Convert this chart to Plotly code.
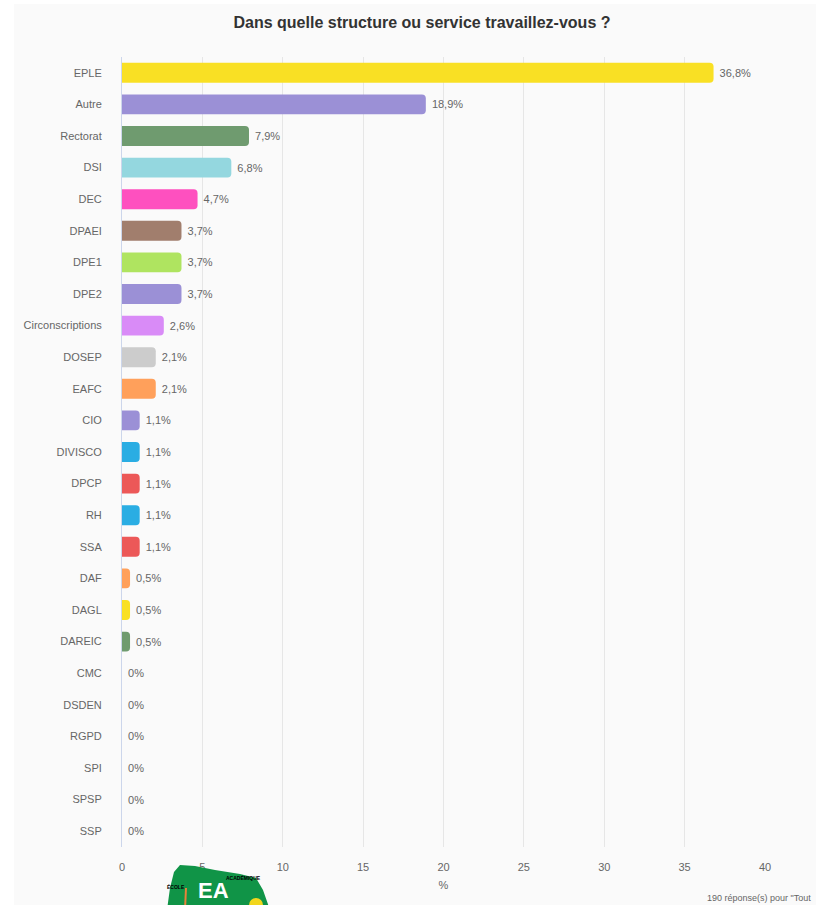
import plotly.graph_objects as go

categories = ["EPLE", "Autre", "Rectorat", "DSI", "DEC", "DPAEI", "DPE1", "DPE2",
              "Circonscriptions", "DOSEP", "EAFC", "CIO", "DIVISCO", "DPCP", "RH",
              "SSA", "DAF", "DAGL", "DAREIC", "CMC", "DSDEN", "RGPD", "SPI", "SPSP", "SSP"]
values = [36.8, 18.9, 7.9, 6.8, 4.7, 3.7, 3.7, 3.7, 2.6, 2.1, 2.1, 1.1, 1.1, 1.1, 1.1,
          1.1, 0.5, 0.5, 0.5, 0, 0, 0, 0, 0, 0]
labels = ["36,8%", "18,9%", "7,9%", "6,8%", "4,7%", "3,7%", "3,7%", "3,7%", "2,6%",
          "2,1%", "2,1%", "1,1%", "1,1%", "1,1%", "1,1%", "1,1%", "0,5%", "0,5%",
          "0,5%", "0%", "0%", "0%", "0%", "0%", "0%"]
colors = ["#f9e024", "#9b90d6", "#6f9b6f", "#94d7df", "#fe50bf", "#a17e6d", "#afe460",
          "#9b90d6", "#d98bf7", "#cccccc", "#ffa05b", "#9b90d6", "#2aade3", "#ec5858",
          "#2aade3", "#ec5858", "#ffa05b", "#f9e024", "#6f9b6f", "#cccccc", "#cccccc",
          "#cccccc", "#cccccc", "#cccccc", "#cccccc"]
x_ticks = [0, 5, 10, 15, 20, 25, 30, 35, 40]

W, H = 816, 905
L, R, T, B = 122, 765, 57, 847
pw, ph = R - L, B - T

def px(x):
    return (x - L) / pw

def py(y):
    return (B - y) / ph

FONT = "Liberation Sans, Arial, sans-serif"

fig = go.Figure(go.Bar(
    x=values, y=categories, orientation="h",
    marker=dict(color=colors, line=dict(width=0)),
    text=["\u00a0" + t for t in labels], textposition="outside",
    textfont=dict(size=11, color="#666666", family=FONT),
    cliponaxis=False, hoverinfo="skip",
))

logo_pts = [(167, 910), (170, 888), (174, 872), (180, 865), (195, 866), (215, 870),
            (240, 874), (256, 878), (263, 890), (270, 910)]
logo_path = "M " + " L ".join(f"{px(x)},{py(y)}" for x, y in logo_pts) + " Z"

fig.update_layout(
    width=W, height=H,
    margin=dict(l=L, r=W - R, t=T, b=H - B, pad=0),
    paper_bgcolor="white", plot_bgcolor="rgba(0,0,0,0)",
    bargap=0.37, barcornerradius=4,
    showlegend=False,
    font=dict(family=FONT, color="#666666", size=11),
    title=dict(text="<b>Dans quelle structure ou service travaillez-vous ?</b>",
               x=422 / W, xanchor="center", y=1 - 22 / H, yanchor="middle",
               yref="container", xref="container",
               font=dict(size=16, color="#333333", family=FONT)),
    xaxis=dict(range=[0, 40], tickvals=x_ticks, showgrid=True, gridcolor="#e6e6e6",
               gridwidth=1, zeroline=False, showline=False, ticks="",
               ticklabelstandoff=12, tickfont=dict(size=11, color="#666666"),
               title=dict(text="%", font=dict(size=11, color="#666666"), standoff=9),
               fixedrange=True),
    yaxis=dict(autorange="reversed", showgrid=False, zeroline=False,
               showline=True, linecolor="#ccd6eb", linewidth=1, ticks="",
               ticklabelstandoff=17, tickfont=dict(size=11, color="#666666"),
               fixedrange=True),
    shapes=[
        dict(type="rect", xref="paper", yref="paper", layer="below",
             x0=px(14), x1=px(W + 20), y0=py(H + 20), y1=py(4),
             fillcolor="#fafafa", line=dict(width=0)),
        dict(type="path", xref="paper", yref="paper", layer="above",
             path=logo_path, fillcolor="#109447", line=dict(width=0)),
        dict(type="line", xref="paper", yref="paper", layer="above",
             x0=px(186), x1=px(185), y0=py(888), y1=py(910),
             line=dict(color="#e8823a", width=2)),
        dict(type="circle", xref="paper", yref="paper", layer="above",
             x0=px(249), x1=px(263), y0=py(898), y1=py(912),
             fillcolor="#f2d61c", line=dict(width=0)),
    ],
    annotations=[
        dict(text='190 réponse(s) pour "Tout', xref="paper", yref="paper",
             x=px(705), y=py(898), xanchor="left", yanchor="middle",
             showarrow=False, font=dict(size=9, color="#666666")),
        dict(text="<b>EA</b>", xref="paper", yref="paper",
             x=px(213), y=py(890), xanchor="center", yanchor="middle",
             showarrow=False, font=dict(size=22, color="white", family=FONT)),
        dict(text="<b>ÉCOLE</b>", xref="paper", yref="paper",
             x=px(176), y=py(886), xanchor="center", yanchor="middle",
             showarrow=False, font=dict(size=5, color="black", family=FONT)),
        dict(text="<b>ACADÉMIQUE</b>", xref="paper", yref="paper",
             x=px(243), y=py(877), xanchor="center", yanchor="middle",
             showarrow=False, font=dict(size=5, color="black", family=FONT)),
    ],
)

fig.write_html("out.html", config={"displayModeBar": False},
               post_script="document.body.style.margin='0';document.body.style.overflow='hidden';")
